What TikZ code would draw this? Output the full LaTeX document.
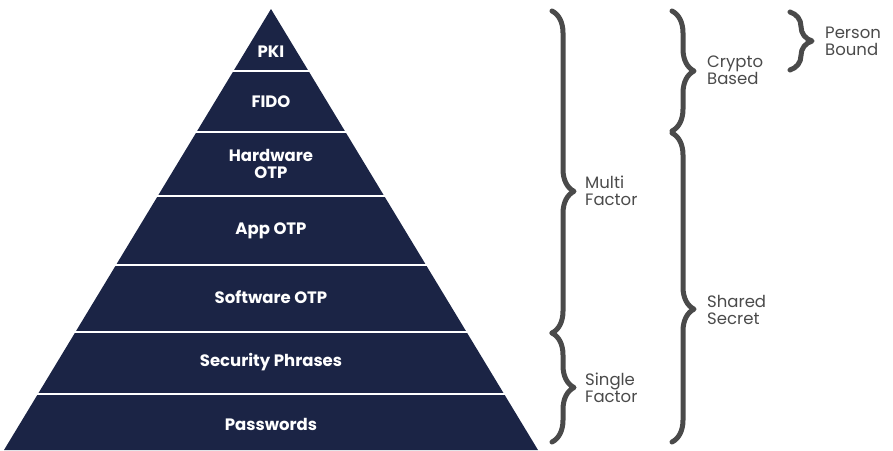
\documentclass[tikz,border=0pt]{standalone}
\usepackage{fontspec}
\setmainfont{Poppins}
\usepackage{tikz}
\usetikzlibrary{positioning,calc,decorations.pathreplacing}

\definecolor{pyrnavy}{HTML}{1B2445}
\definecolor{bracegray}{HTML}{4A4A4A}

\begin{document}
\begin{tikzpicture}[x=1pt, y=-1pt,
    layertext/.style={text=white, font=\bfseries\fontsize{16.5}{17}\selectfont, align=center, inner sep=0pt},
    grouptext/.style={text=bracegray, font=\fontsize{16.5}{17}\selectfont, align=left, inner sep=0pt},
    curly/.style={decorate, decoration={brace, amplitude=22pt, aspect=#1},
        draw=bracegray, line width=5pt, line cap=round, line join=round},
    curly/.default=0.5]
    \useasboundingbox (0,0) rectangle (893,450);

    % apex and base of the pyramid
    \def\apexx{271}
    \def\apexy{9}
    \def\basey{450}
    \def\halfbase{267}

    % --- PYRAMID ---
    \fill[pyrnavy] (\apexx,\apexy) -- (\apexx+\halfbase,\basey) -- (\apexx-\halfbase,\basey) -- cycle;

    % white gaps between the layers
    \foreach \y in {71,132,196,265,332,394} {
        \draw[white, line width=2.6pt] (0,\y) -- (560,\y);
    }

    % layer labels
    \node[layertext] (pki)  at (\apexx,52)  {PKI};
    \node[layertext] (fido) at (\apexx,102) {FIDO};
    \node[layertext] (hwotp) at (\apexx,164) {Hardware\\OTP};
    \node[layertext] (appotp) at (\apexx,231) {App OTP};
    \node[layertext] (swotp) at (\apexx,297) {Software OTP};
    \node[layertext] (phrases) at (\apexx,362) {Security Phrases};
    \node[layertext] (passwords) at (\apexx,424) {Passwords};

    % --- BRACES ---
    % first column
    \coordinate (multiTop) at (552,11);
    \coordinate (multiBot) at (552,333);
    \coordinate (multiTip) at (574,191);
    \coordinate (singleTop) at (552,333);
    \coordinate (singleBot) at (552,442);
    \coordinate (singleTip) at (574,388);
    \draw[curly=0.56] (multiTop) -- (multiBot);
    \draw[curly] (singleTop) -- (singleBot);
    \node[grouptext, right=11pt of multiTip] (multi) {Multi\\Factor};
    \node[grouptext, right=11pt of singleTip] (single) {Single\\Factor};

    % second column
    \coordinate (cryptoTop) at (672,11);
    \coordinate (cryptoBot) at (672,131);
    \coordinate (cryptoTip) at (694,70);
    \coordinate (sharedTop) at (672,133);
    \coordinate (sharedBot) at (672,442);
    \coordinate (sharedTip) at (694,310);
    \draw[curly] (cryptoTop) -- (cryptoBot);
    \draw[curly=0.57] (sharedTop) -- (sharedBot);
    \node[grouptext, right=13pt of cryptoTip] (crypto) {Crypto\\Based};
    \node[grouptext, right=13pt of sharedTip] (shared) {Shared\\Secret};

    % third column
    \coordinate (personTop) at (790,12);
    \coordinate (personBot) at (790,70);
    \coordinate (personTip) at (812,41);
    \draw[curly] (personTop) -- (personBot);
    \node[grouptext, right=13pt of personTip] (person) {Person\\Bound};

\end{tikzpicture}
\end{document}
